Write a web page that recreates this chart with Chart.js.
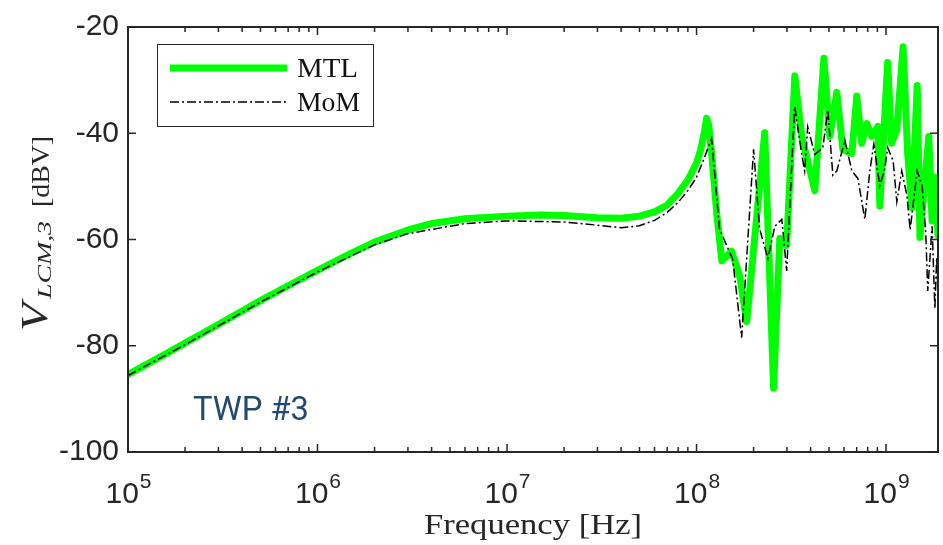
<!DOCTYPE html>
<html>
<head>
<meta charset="utf-8">
<script src="https://cdn.jsdelivr.net/npm/chart.js@4.4.1/dist/chart.umd.min.js"></script>
<style>
  html, body { margin: 0; padding: 0; background: #fff; }
  #wrap { width: 943px; height: 545px; }
</style>
</head>
<body>
<div id="wrap"><canvas id="myChart" width="943" height="545"></canvas></div>
<script>
// MTL series (frequency in Hz, voltage in dBV)
const mtlFreq = [1e5, 1.5e5, 2e5, 3e5, 5e5, 7e5, 1e6, 1.5e6, 2e6, 3e6, 4e6, 6e6, 1e7, 1.5e7, 2e7, 3e7, 4e7,
  5e7, 6e7, 7e7, 8e7, 9e7, 1e8, 1.05e8, 1.1e8, 1.13e8, 1.16e8, 1.2e8, 1.28e8, 1.36e8, 1.53e8, 1.69e8,
  1.84e8, 2.29e8, 2.55e8, 2.75e8, 2.99e8, 3.3e8, 3.59e8, 4.21e8, 4.7e8, 5.05e8, 5.5e8, 5.92e8, 6.6e8,
  7.01e8, 7.45e8, 7.92e8, 8.41e8, 9.06e8, 9.27e8, 1.02e9, 1.07e9, 1.14e9, 1.23e9, 1.3e9, 1.37e9, 1.46e9,
  1.51e9, 1.68e9, 1.75e9, 1.81e9, 1.88e9];
const mtlValues = [-85.4, -82.0, -79.5, -76.0, -71.5, -68.7, -65.8, -62.6, -60.5, -58.2, -57.0, -56.1, -55.6,
  -55.4, -55.5, -55.9, -56.0, -55.6, -54.8, -53.5, -51.3, -48.8, -45.6, -43.2, -39.8, -37.2, -38.5, -43.6,
  -55.3, -64.0, -62.2, -66.9, -75.5, -39.9, -88.0, -59.8, -61.1, -29.2, -40.6, -50.8, -25.9, -40.6,
  -32.3, -43.1, -43.8, -33.0, -41.9, -38.2, -40.6, -38.7, -53.7, -26.7, -41.9, -39.4, -23.7, -43.8,
  -54.0, -31.0, -59.6, -40.6, -56.5, -48.3, -59.2];

// MoM series
const momFreq = [1e5, 2e5, 5e5, 1e6, 2e6, 3e6, 6e6, 1e7, 2e7, 3e7, 4e7, 5e7, 6e7, 7e7, 8e7, 9e7, 1e8,
  1.1e8, 1.2e8, 1.25e8, 1.32e8, 1.44e8, 1.55e8, 1.73e8, 2.0e8, 2.15e8, 2.38e8, 2.59e8, 2.82e8, 2.99e8,
  3.18e8, 3.3e8, 3.59e8, 3.72e8, 3.86e8, 4.21e8, 4.64e8, 4.93e8, 5.24e8, 5.5e8, 6.06e8, 6.6e8, 7.1e8,
  7.73e8, 8.21e8, 8.62e8, 9.27e8, 9.86e8, 1.02e9, 1.09e9, 1.14e9, 1.21e9, 1.29e9, 1.34e9, 1.46e9, 1.55e9,
  1.62e9, 1.66e9, 1.75e9, 1.81e9, 1.85e9, 1.88e9];
const momValues = [-85.6, -79.8, -71.8, -66.1, -61.0, -58.9, -57.0, -56.5, -56.7, -57.3, -57.8, -57.4, -56.4,
  -54.9, -53.0, -50.8, -48.3, -44.6, -41.0, -48.0, -57.9, -61.1, -63.6, -78.5, -43.0, -57.9, -63.6,
  -57.5, -56.2, -65.9, -45.9, -35.0, -44.0, -47.1, -38.8, -44.0, -42.7, -35.6, -47.9, -47.1, -41.3,
  -47.1, -48.5, -56.2, -47.1, -42.1, -49.9, -46.6, -42.7, -45.2, -52.9, -47.1, -51.8, -58.2, -47.1,
  -49.9, -58.7, -69.7, -57.5, -73.0, -63.4, -69.9];

const yTicks = [-100, -80, -60, -40, -20];
const xDecades = [5, 6, 7, 8, 9];
const legendLabels = ["MTL", "MoM"];
const annotation = "TWP #3";

const axisColor = "#262626";
const greenColor = "#00ff00";
const momDash = [9, 3, 2, 3];

function toPoints(xs, ys) {
  return xs.map((f, i) => ({ x: f, y: ys[i] }));
}

// fill text squeezed or stretched to a given width
function fitText(ctx, txt, x, y, width) {
  const w = ctx.measureText(txt).width;
  ctx.save();
  ctx.translate(x, y);
  ctx.scale(width / w, 1);
  ctx.fillText(txt, 0, 0);
  ctx.restore();
}

// Draw box, inward ticks, exponent tick labels, titles, legend and text label
const decorations = {
  id: "decorations",
  afterDraw(chart) {
    const ctx = chart.ctx;
    const area = chart.chartArea;
    const xs = chart.scales.x;
    const ys = chart.scales.y;
    ctx.save();

    // box
    ctx.strokeStyle = axisColor;
    ctx.lineWidth = 2;
    ctx.strokeRect(area.left, area.top, area.right - area.left, area.bottom - area.top);

    // y ticks on left and right
    ctx.lineWidth = 1.5;
    ctx.beginPath();
    yTicks.forEach((v) => {
      const py = ys.getPixelForValue(v);
      ctx.moveTo(area.left, py); ctx.lineTo(area.left + 8, py);
      ctx.moveTo(area.right, py); ctx.lineTo(area.right - 8, py);
    });
    // x ticks (major and minor) on bottom and top
    for (let d = 5; d <= 9; d++) {
      for (let m = 1; m <= 9; m++) {
        const f = m * Math.pow(10, d);
        if (f > xs.max) continue;
        const px = xs.getPixelForValue(f);
        const len = m === 1 ? 8 : 5;
        ctx.moveTo(px, area.bottom); ctx.lineTo(px, area.bottom - len);
        ctx.moveTo(px, area.top); ctx.lineTo(px, area.top + len);
      }
    }
    ctx.stroke();

    // x tick labels as 10^k
    ctx.fillStyle = axisColor;
    ctx.textBaseline = "alphabetic";
    ctx.textAlign = "left";
    xDecades.forEach((k) => {
      const px = xs.getPixelForValue(Math.pow(10, k));
      ctx.font = "30px 'Liberation Sans', Arial, sans-serif";
      const w1 = ctx.measureText("10").width;
      ctx.font = "21px 'Liberation Sans', Arial, sans-serif";
      const w2 = ctx.measureText(String(k)).width;
      const start = px - (w1 + w2) / 2;
      ctx.font = "30px 'Liberation Sans', Arial, sans-serif";
      ctx.fillText("10", start, 503);
      ctx.font = "21px 'Liberation Sans', Arial, sans-serif";
      ctx.fillText(String(k), start + w1 + 1, 488);
    });

    // x axis title, stretched to the wider TeX look
    ctx.font = "29px 'Liberation Serif', 'Times New Roman', serif";
    fitText(ctx, "Frequency [Hz]", 424, 534, 218);

    // y axis title, rotated
    ctx.save();
    ctx.translate(47, 331);
    ctx.rotate(-Math.PI / 2);
    ctx.font = "italic 37px 'Liberation Serif', 'Times New Roman', serif";
    fitText(ctx, "V", 0, 0, 28);
    ctx.font = "italic 19px 'Liberation Serif', 'Times New Roman', serif";
    fitText(ctx, "LCM,3", 32, 4, 78);
    ctx.font = "26px 'Liberation Serif', 'Times New Roman', serif";
    fitText(ctx, "[dBV]", 124, 2, 71);
    ctx.restore();

    // legend
    ctx.fillStyle = "#fff";
    ctx.fillRect(157, 44, 216, 82);
    ctx.strokeStyle = axisColor;
    ctx.lineWidth = 1;
    ctx.strokeRect(157.5, 44.5, 216, 82);
    ctx.lineCap = "butt";
    ctx.strokeStyle = greenColor;
    ctx.lineWidth = 7;
    ctx.beginPath(); ctx.moveTo(170, 68); ctx.lineTo(287, 68); ctx.stroke();
    ctx.strokeStyle = "#000";
    ctx.lineWidth = 1.5;
    ctx.setLineDash(momDash);
    ctx.beginPath(); ctx.moveTo(170, 102); ctx.lineTo(287, 102); ctx.stroke();
    ctx.setLineDash([]);
    ctx.fillStyle = "#111";
    ctx.font = "27px 'Liberation Serif', 'Times New Roman', serif";
    fitText(ctx, legendLabels[0], 297, 77, 61);
    fitText(ctx, legendLabels[1], 297, 111, 63);

    // annotation
    ctx.fillStyle = "#214a6e";
    ctx.font = "34px Roboto, 'Liberation Sans', sans-serif";
    fitText(ctx, annotation, 193, 420, 116);

    ctx.restore();
  }
};

const canvas = document.getElementById("myChart");
const chart = new Chart(canvas.getContext("2d"), {
  type: "line",
  data: {
    datasets: [
      {
        label: legendLabels[0],
        data: toPoints(mtlFreq, mtlValues),
        borderColor: greenColor,
        borderWidth: 7,
        borderJoinStyle: "round",
        borderCapStyle: "round",
        pointRadius: 0,
        tension: 0,
        fill: false,
        order: 2,
      },
      {
        label: legendLabels[1],
        data: toPoints(momFreq, momValues),
        borderColor: "#000",
        borderWidth: 1.5,
        borderDash: momDash,
        pointRadius: 0,
        tension: 0,
        fill: false,
        order: 1,
      },
    ],
  },
  options: {
    responsive: false,
    animation: false,
    devicePixelRatio: 1,
    layout: { padding: { top: 22, right: 5, left: 0, bottom: 0 } },
    plugins: { legend: { display: false }, tooltip: { enabled: false } },
    scales: {
      x: {
        type: "logarithmic",
        min: 1e5,
        max: 1.88e9,
        grid: { display: false },
        border: { display: false },
        ticks: { display: false },
        afterFit: (scale) => { scale.height = 93; },
      },
      y: {
        min: -100,
        max: -20,
        grid: { display: false, drawTicks: false },
        border: { display: false },
        ticks: {
          stepSize: 20,
          padding: 9,
          color: axisColor,
          font: { family: "'Liberation Sans', Arial, sans-serif", size: 30 },
        },
        afterFit: (scale) => { scale.width = 128; },
      },
    },
  },
  plugins: [decorations],
});
</script>
</body>
</html>
